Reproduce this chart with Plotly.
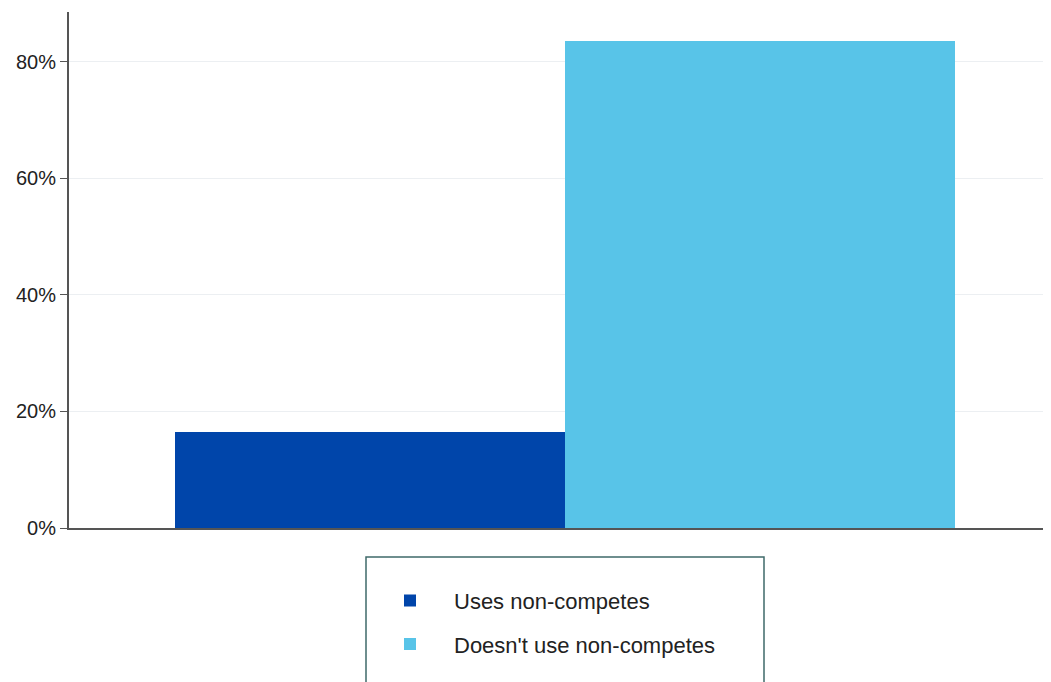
import plotly.graph_objects as go

# Data
categories = ["Uses non-competes", "Doesn't use non-competes"]
values = [16.4, 83.6]
colors = ["#0045aa", "#58c4e8"]
tick_vals = [0, 20, 40, 60, 80]
tick_text = ["0%", "20%", "40%", "60%", "80%"]

FONT = "Liberation Sans, Arial, sans-serif"

fig = go.Figure()
for i, (name, v, c) in enumerate(zip(categories, values, colors)):
    fig.add_trace(go.Bar(
        x=["All"], y=[v], name=name,
        marker=dict(color=c, line=dict(width=0)),
        legendgroup=f"g{i}",
        hoverinfo="name+y",
    ))

# page body has an 8px margin: the figure is sized to fill the rest of the window
fig.update_layout(
    width=1043, height=674,
    margin=dict(l=61, r=0, t=4, b=154),
    paper_bgcolor="white", plot_bgcolor="white",
    barmode="group", bargap=0, bargroupgap=0,
    font=dict(family=FONT, color="#222222"),
    showlegend=True,
    legend=dict(
        orientation="v",
        x=(366 - 69) / 982, xanchor="left",
        y=-0.10, yanchor="top",
        font=dict(size=22, family=FONT, color="#222222"),
        itemwidth=78,
        tracegroupgap=12,
        bgcolor="rgba(0,0,0,0)",
        borderwidth=0,
    ),
    xaxis=dict(
        type="category",
        range=[-0.636, 0.623],
        showticklabels=False,
        showgrid=False,
        showline=True, linecolor="#555555", linewidth=2,
        ticks="", zeroline=False, fixedrange=True,
    ),
    yaxis=dict(
        range=[0, 88.5],
        tickvals=tick_vals, ticktext=tick_text,
        tickfont=dict(size=20, family=FONT, color="#222222"),
        showgrid=True, gridcolor="#eceff2", gridwidth=1,
        showline=True, linecolor="#555555", linewidth=2,
        ticks="outside", ticklen=7, tickcolor="#555555", tickwidth=1,
        zeroline=False, fixedrange=True,
    ),
    shapes=[dict(
        type="rect", xref="paper", yref="paper",
        x0=(366 - 69) / 982, x1=(764 - 69) / 982,
        y0=-0.36, y1=(528 - 557) / 516,
        line=dict(color="#3f6a6a", width=1.5),
        fillcolor="rgba(0,0,0,0)",
        layer="below",
    )],
)

fig.write_html("out.html")
